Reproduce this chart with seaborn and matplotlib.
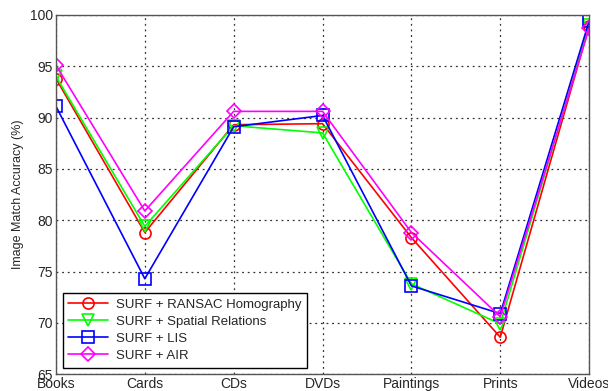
import pandas as pd
import numpy as np
import matplotlib.pyplot as plt
import seaborn as sns

categories = ["Books", "Cards", "CDs", "DVDs", "Paintings", "Prints", "Videos"]
ransac = [93.8, 78.8, 89.3, 89.4, 78.3, 68.6, 98.9]
spatial = [94.0, 79.4, 89.2, 88.5, 73.8, 69.9, 99.0]
lis = [91.1, 74.3, 89.1, 90.2, 73.6, 70.9, 99.4]
air = [95.1, 80.9, 90.6, 90.6, 78.8, 70.6, 98.7]

series = [
    ("SURF + RANSAC Homography", ransac, "#ff0000", "o"),
    ("SURF + Spatial Relations", spatial, "#00ff00", "v"),
    ("SURF + LIS", lis, "#0000ff", "s"),
    ("SURF + AIR", air, "#ff00ff", "D"),
]

sns.set_style("white")
plt.rcParams["font.family"] = ["Liberation Sans", "DejaVu Sans"]

fig = plt.figure(figsize=(6.08, 3.91), dpi=100)
ax = fig.add_axes([0.092, 0.043, 0.877, 0.919])

for name, vals, col, mk in series:
    df = pd.DataFrame({"Category": categories, "Accuracy": vals})
    sns.lineplot(data=df, x="Category", y="Accuracy", ax=ax, color=col,
                 marker=mk, markersize=8 if mk != "D" else 7, mfc="none",
                 mec=col, mew=1.2, lw=1.2, label=name)

ax.set_xlim(0, 6)
ax.set_ylim(65, 100)
ax.set_yticks(np.arange(65, 101, 5))
ax.set_xlabel("")
ax.set_ylabel("Image Match Accuracy (%)", fontsize=9)
ax.tick_params(direction="in", labelsize=10, length=4, color="black", pad=2)
ax.grid(True, color="#333333", linestyle=(0, (1.5, 3)), linewidth=0.9)
for s in ax.spines.values():
    s.set_color("#555555")
    s.set_linewidth(1)

leg = ax.legend(loc="lower left", fontsize=9.5, fancybox=False, framealpha=1,
                edgecolor="black", borderaxespad=0.5, handlelength=3.0,
                labelspacing=0.35, borderpad=0.45, handletextpad=0.6)
leg.get_frame().set_linewidth(1)

fig.savefig("out.png", dpi=100)
